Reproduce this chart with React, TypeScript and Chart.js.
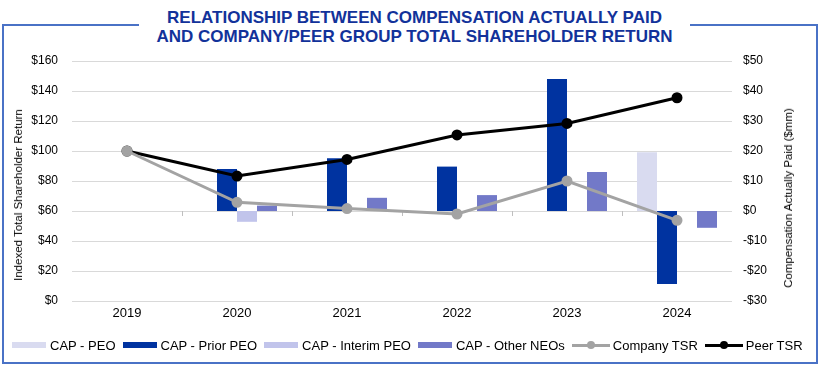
import React, { useEffect, useRef } from "react";
import { Chart, registerables } from "chart.js";

Chart.register(...registerables);

const years = ["2019", "2020", "2021", "2022", "2023", "2024"];
const capPEO = [null, null, null, null, null, 19.6];
const capPriorPEO = [null, 14, 17.6, 14.8, 44, -24.3];
const capInterimPEO = [null, -3.6, null, null, null, null];
const capOtherNEOs = [null, 1.8, 4.4, 5.3, 13, -5.6];
const companyTSR = [100, 65.8, 61.6, 58, 80, 53.8];
const peerTSR = [100, 83.3, 94.4, 110.7, 118.4, 135.5];

const titleLines = [
  "RELATIONSHIP BETWEEN COMPENSATION ACTUALLY PAID",
  "AND COMPANY/PEER GROUP TOTAL SHAREHOLDER RETURN",
];
const leftTitle = "Indexed Total Shareholder Return";
const rightTitle = "Compensation Actually Paid ($mm)";

const FONT = "'Liberation Sans', Arial, sans-serif";

const COLORS = {
  peo: "#d9dbf0",
  prior: "#0033a0",
  interim: "#c1c4eb",
  other: "#7279c8",
  company: "#a3a3a3",
  peer: "#000000",
};

const legendItems = [
  { label: "CAP - PEO", color: COLORS.peo, kind: "bar" },
  { label: "CAP - Prior PEO", color: COLORS.prior, kind: "bar" },
  { label: "CAP - Interim PEO", color: COLORS.interim, kind: "bar" },
  { label: "CAP - Other NEOs", color: COLORS.other, kind: "bar" },
  { label: "Company TSR", color: COLORS.company, kind: "line" },
  { label: "Peer TSR", color: COLORS.peer, kind: "line" },
];

const axisTickMarks = {
  id: "axisTickMarks",
  beforeDatasetsDraw(chart: any) {
    const x = chart.scales.x;
    const yR = chart.scales.yR;
    const y0 = yR.getPixelForValue(0);
    const ctx = chart.ctx;
    ctx.save();
    ctx.strokeStyle = "#bfbfbf";
    ctx.lineWidth = 1;
    const n = chart.data.labels.length;
    for (let i = 0; i < n - 1; i++) {
      const px = Math.round((x.getPixelForValue(i) + x.getPixelForValue(i + 1)) / 2) + 0.5;
      ctx.beginPath();
      ctx.moveTo(px, y0);
      ctx.lineTo(px, y0 + 5);
      ctx.stroke();
    }
    ctx.restore();
  },
};

export default function App() {
  const ref = useRef<HTMLCanvasElement | null>(null);

  useEffect(() => {
    if (!ref.current) return;
    const barCommon = {
      type: "bar" as const,
      yAxisID: "yR",
      categoryPercentage: 80 / 110,
      barPercentage: 1,
      borderWidth: 0,
      order: 2,
    };
    const lineCommon = {
      type: "line" as const,
      yAxisID: "yL",
      borderWidth: 3,
      pointRadius: 4,
      pointHoverRadius: 4,
      tension: 0,
      order: 1,
    };
    const chart = new Chart(ref.current, {
      type: "bar",
      data: {
        labels: years,
        datasets: [
          { ...barCommon, label: "CAP - PEO", data: capPEO, backgroundColor: COLORS.peo },
          { ...barCommon, label: "CAP - Prior PEO", data: capPriorPEO, backgroundColor: COLORS.prior },
          { ...barCommon, label: "CAP - Interim PEO", data: capInterimPEO, backgroundColor: COLORS.interim },
          { ...barCommon, label: "CAP - Other NEOs", data: capOtherNEOs, backgroundColor: COLORS.other },
          {
            ...lineCommon,
            label: "Company TSR",
            data: companyTSR,
            borderColor: COLORS.company,
            backgroundColor: COLORS.company,
            pointBackgroundColor: COLORS.company,
            pointBorderColor: COLORS.company,
          },
          {
            ...lineCommon,
            label: "Peer TSR",
            data: peerTSR,
            borderColor: COLORS.peer,
            backgroundColor: COLORS.peer,
            pointBackgroundColor: COLORS.peer,
            pointBorderColor: COLORS.peer,
          },
        ] as any,
      },
      options: {
        responsive: false,
        animation: false,
        devicePixelRatio: 1,
        layout: { padding: { left: 0, right: 0, top: 61, bottom: 39 } },
        plugins: {
          legend: { display: false },
          tooltip: { enabled: false },
          title: { display: false },
        },
        scales: {
          x: {
            grid: { display: false, drawTicks: false },
            border: { display: false },
            ticks: { color: "#000", font: { family: FONT, size: 13 }, padding: 5 },
            afterFit: (s: any) => {
              s.height = 30;
            },
          },
          yL: {
            position: "left",
            min: 0,
            max: 160,
            ticks: {
              stepSize: 20,
              color: "#000",
              padding: 14,
              font: { family: FONT, size: 12 },
              callback: (v: any) => "$" + v,
            },
            grid: { color: "#d9d9d9", lineWidth: 1, drawTicks: false },
            border: { display: false },
            afterFit: (s: any) => {
              s.width = 72;
            },
          },
          yR: {
            position: "right",
            min: -30,
            max: 50,
            ticks: {
              stepSize: 10,
              color: "#000",
              padding: 11,
              font: { family: FONT, size: 12 },
              callback: (v: any) => (v < 0 ? "-$" + Math.abs(v) : "$" + v),
            },
            grid: { display: false, drawTicks: false },
            border: { display: false },
            afterFit: (s: any) => {
              s.width = 88;
            },
          },
        },
      } as any,
      plugins: [axisTickMarks],
    });
    return () => chart.destroy();
  }, []);

  return (
    <div style={{ position: "absolute", left: 0, top: 0, width: 820, height: 370, background: "#fff", fontFamily: FONT }}>
      <div
        style={{
          position: "absolute",
          left: 2,
          top: 24,
          width: 812,
          height: 336,
          border: "2px solid #4a72c6",
        }}
      />
      <canvas ref={ref} width={820} height={370} style={{ position: "absolute", left: 0, top: 0, width: 820, height: 370 }} />
      <div
        style={{
          position: "absolute",
          left: 139,
          width: 551,
          top: 7.5,
          background: "#fff",
          textAlign: "center",
          color: "#12329a",
          fontWeight: "bold",
          fontSize: 17,
          lineHeight: "19px",
          whiteSpace: "nowrap",
        }}
      >
        {titleLines.map((t) => (
          <div key={t}>{t}</div>
        ))}
      </div>
      <div
        style={{
          position: "absolute",
          left: 17.5,
          top: 195,
          transform: "translate(-50%, -50%) rotate(-90deg)",
          fontSize: 11.5,
          whiteSpace: "nowrap",
          color: "#000",
        }}
      >
        {leftTitle}
      </div>
      <div
        style={{
          position: "absolute",
          left: 788,
          top: 197.5,
          transform: "translate(-50%, -50%) rotate(-90deg)",
          fontSize: 11.5,
          whiteSpace: "nowrap",
          color: "#000",
        }}
      >
        {rightTitle}
      </div>
      <div
        style={{
          position: "absolute",
          left: 12,
          top: 336,
          height: 18,
          display: "flex",
          alignItems: "center",
          fontSize: 13,
          color: "#000",
          whiteSpace: "nowrap",
        }}
      >
        {legendItems.map((it, i) => (
          <div key={it.label} style={{ display: "flex", alignItems: "center", marginLeft: i === 0 ? 0 : 7 }}>
            {it.kind === "bar" ? (
              <div style={{ width: 34, height: 6, background: it.color, marginRight: 4 }} />
            ) : (
              <div style={{ position: "relative", width: 38, height: 8, marginRight: 3 }}>
                <div style={{ position: "absolute", left: 0, top: 2.5, width: 38, height: 3, background: it.color }} />
                <div
                  style={{
                    position: "absolute",
                    left: 15,
                    top: 0,
                    width: 8,
                    height: 8,
                    borderRadius: 4,
                    background: it.color,
                  }}
                />
              </div>
            )}
            <span>{it.label}</span>
          </div>
        ))}
      </div>
    </div>
  );
}
